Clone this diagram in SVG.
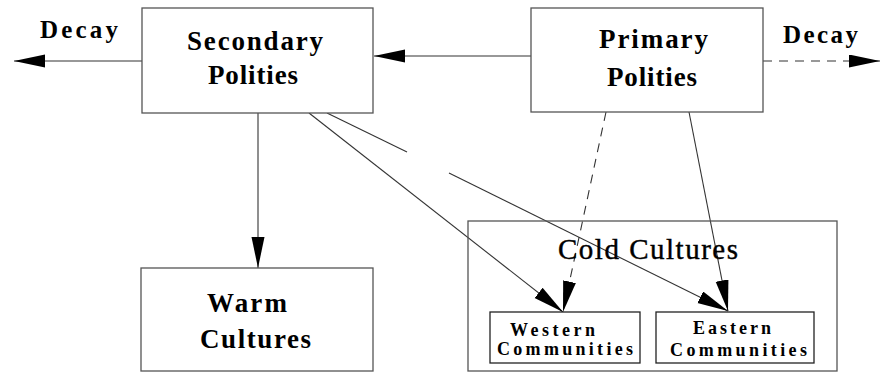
<svg xmlns="http://www.w3.org/2000/svg" width="881" height="372" viewBox="0 0 881 372">
<style>
.box{fill:#fff;stroke:#555;stroke-width:1.3}
.inner{stroke:#222}
.line{fill:none;stroke:#333;stroke-width:1.1}
.dash{stroke-dasharray:9,7}
.t{font-family:"Liberation Serif","Times New Roman",serif;font-weight:bold;fill:#000}
.big{font-size:27px}
.dec{font-size:25px}
.sm{font-size:18px}
.cold{font-size:29px;font-weight:normal;stroke:#000;stroke-width:0.4}
</style>
<defs>
<marker id="ah" markerUnits="userSpaceOnUse" markerWidth="32" markerHeight="14" refX="31" refY="6.5" orient="auto">
<path d="M0,0 L31,6.5 L0,13 z" fill="#000"/>
</marker>
</defs>
<rect width="881" height="372" fill="#fff"/>
<g id="connectors">
<line class="line" x1="142" y1="61" x2="14" y2="61" marker-end="url(#ah)"/>
<line class="line" x1="531" y1="56" x2="374" y2="56" marker-end="url(#ah)"/>
<line class="line dash" x1="763" y1="61" x2="880" y2="61" marker-end="url(#ah)"/>
<line class="line" x1="258" y1="113" x2="258" y2="268" marker-end="url(#ah)"/>
<line class="line" x1="309" y1="113" x2="563" y2="312" marker-end="url(#ah)"/>
<line class="line" x1="327" y1="113" x2="407" y2="152"/>
<line class="line" x1="449" y1="173" x2="728" y2="311" marker-end="url(#ah)"/>
<line class="line dash" x1="606" y1="112" x2="563" y2="312" marker-end="url(#ah)"/>
<line class="line" x1="689" y1="112" x2="728" y2="311" marker-end="url(#ah)"/>
</g>
<g id="decay-left"><text class="t dec" x="40" y="38" textLength="78">Decay</text></g>
<g id="decay-right"><text class="t dec" x="783" y="43" textLength="75">Decay</text></g>
<g id="secondary">
<rect class="box" x="142" y="8" width="231" height="105"/>
<text class="t big" x="187" y="50" textLength="136">Secondary</text>
<text class="t big" x="208" y="84" textLength="90">Polities</text>
</g>
<g id="primary">
<rect class="box" x="531" y="8" width="232" height="104"/>
<text class="t big" x="599" y="48" textLength="109">Primary</text>
<text class="t big" x="607" y="86" textLength="90">Polities</text>
</g>
<g id="warm">
<rect class="box" x="141" y="268" width="232" height="103"/>
<text class="t big" x="207" y="312" textLength="80">Warm</text>
<text class="t big" x="200" y="348" textLength="111">Cultures</text>
</g>
<g id="cold">
<rect class="box" x="468" y="221" width="369" height="150" style="fill:none"/>
<text class="t cold" x="558" y="259" textLength="180">Cold Cultures</text>
</g>
<g id="western">
<rect class="box inner" x="490" y="312" width="150" height="51"/>
<text class="t sm" x="510" y="336" textLength="85">Western</text>
<text class="t sm" x="497" y="355" textLength="136">Communities</text>
</g>
<g id="eastern">
<rect class="box inner" x="656" y="312" width="158" height="51"/>
<text class="t sm" x="693" y="334" textLength="78">Eastern</text>
<text class="t sm" x="670" y="356" textLength="137">Communities</text>
</g>
</svg>
